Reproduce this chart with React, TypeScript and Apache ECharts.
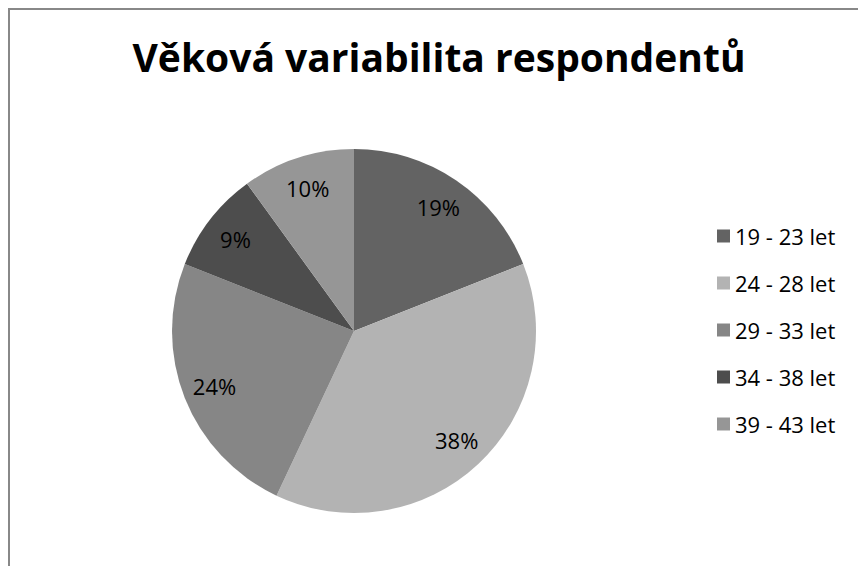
import React, { useEffect, useRef } from "react";
import * as echarts from "echarts";

const title = "Věková variabilita respondentů";
const categories = ["19 - 23 let", "24 - 28 let", "29 - 33 let", "34 - 38 let", "39 - 43 let"];
const values = [19, 38, 24, 9, 10];
const colors = ["#636363", "#b3b3b3", "#868686", "#4d4d4d", "#969696"];

const FONT = "'Open Sans', 'DejaVu Sans', sans-serif";

export default function App() {
  const ref = useRef<HTMLDivElement>(null);
  useEffect(() => {
    if (!ref.current) return;
    const chart = echarts.init(ref.current, undefined, { renderer: "svg" });
    const data = categories.map((name, i) => ({
      name,
      value: values[i],
      itemStyle: { color: colors[i] },
    }));
    chart.setOption({
      animation: false,
      backgroundColor: "#ffffff",
      title: {
        text: title,
        left: 434,
        textAlign: "center",
        top: 32,
        textStyle: { fontFamily: FONT, fontWeight: "bold", fontSize: 39, color: "#000" },
      },
      legend: {
        orient: "vertical",
        left: 712,
        top: 220,
        itemWidth: 13,
        itemHeight: 13,
        itemGap: 25,
        icon: "rect",
        data: categories,
        textStyle: { fontFamily: FONT, fontSize: 22, color: "#000", lineHeight: 22 },
      },
      graphic: [
        {
          type: "rect",
          shape: { x: 9, y: 9, width: 1000, height: 1000 },
          style: { fill: "none", stroke: "#888888", lineWidth: 2 },
          silent: true,
        },
      ],
      series: [
        {
          type: "pie",
          center: [354, 331],
          radius: [0, 182],
          startAngle: 90,
          clockwise: true,
          label: { show: false },
          labelLine: { show: false },
          itemStyle: { borderWidth: 0 },
          emphasis: { disabled: true },
          data,
        },
        {
          type: "pie",
          center: [354, 331],
          radius: [112, 182],
          startAngle: 90,
          clockwise: true,
          silent: true,
          legendHoverLink: false,
          itemStyle: { color: "rgba(0,0,0,0)", borderWidth: 0 },
          label: {
            show: true,
            position: "inside",
            formatter: (p: any) => `${p.value}%`,
            fontFamily: FONT,
            fontSize: 22,
            color: "#000",
          },
          labelLine: { show: false },
          emphasis: { disabled: true },
          data: categories.map((name, i) => ({ name, value: values[i] })),
        },
      ],
    });
    return () => chart.dispose();
  }, []);
  return (
    <div
      ref={ref}
      style={{ position: "absolute", left: 0, top: 0, width: 858, height: 566 }}
    />
  );
}
